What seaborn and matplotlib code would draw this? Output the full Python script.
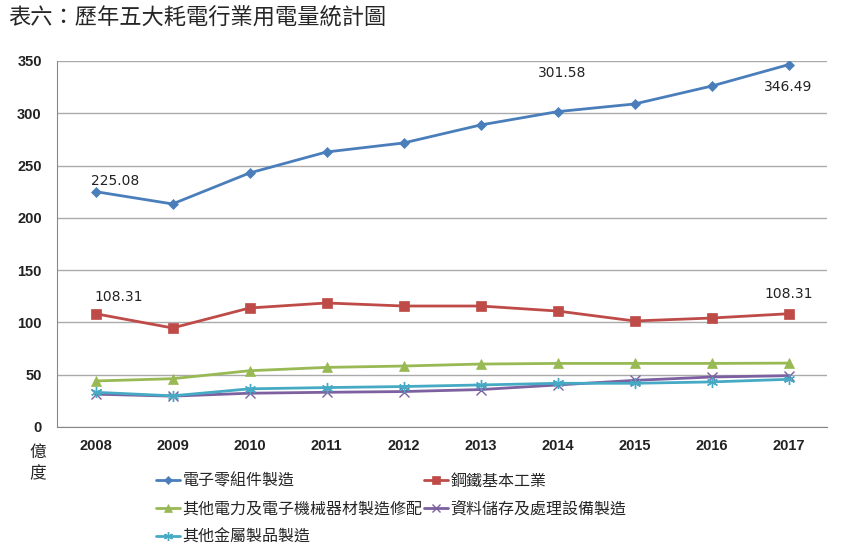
import matplotlib
matplotlib.use("Agg")
import matplotlib.pyplot as plt
import seaborn as sns
import pandas as pd

# ── data ──────────────────────────────────────────────────────────────────────
years = [2008, 2009, 2010, 2011, 2012, 2013, 2014, 2015, 2016, 2017]
electronics = [225.08, 213.3, 242.9, 263.0, 271.6, 288.8, 301.58, 308.9, 326.0, 346.49]
steel = [108.31, 94.7, 113.8, 118.6, 115.7, 115.7, 110.9, 101.4, 104.2, 108.31]
electric_machinery = [44.0, 46.2, 53.8, 57.0, 58.3, 60.2, 60.8, 60.8, 60.8, 61.1]
data_storage = [31.4, 29.5, 32.3, 33.2, 33.9, 35.8, 40.2, 44.6, 47.8, 49.1]
metal_products = [33.2, 29.8, 36.5, 37.7, 38.7, 40.2, 41.8, 41.8, 43.1, 45.6]

series_names = ["電子零組件製造", "鋼鐵基本工業", "其他電力及電子機械器材製造修配",
                "資料儲存及處理設備製造", "其他金屬製品製造"]
series_values = [electronics, steel, electric_machinery, data_storage, metal_products]
colors = ["#4A7EBB", "#BE4B48", "#98B954", "#7D60A0", "#46AAC5"]
markers = ["D", "s", "^", "x", (6, 2, 0)]
marker_sizes = [5, 6.5, 7, 7, 8]

# labelled points: (series index, year, offset in points)
labels = [(0, 2008, (14, 8)), (0, 2014, (3, 28)), (0, 2017, (0, -16)),
          (1, 2008, (17, 12)), (1, 2017, (0, 14))]

df = pd.concat([pd.DataFrame({"year": years, "value": v, "series": n})
                for n, v in zip(series_names, series_values)])

sns.set_style("white")
plt.rcParams["font.family"] = ["Noto Sans CJK TC", "DejaVu Sans"]

fig = plt.figure(figsize=(8.62, 5.52), dpi=100)
ax = fig.add_axes([57 / 862, 1 - 427 / 552, 770 / 862, 366 / 552])

for name, c, m, ms in zip(series_names, colors, markers, marker_sizes):
    sub = df[df["series"] == name]
    sns.lineplot(data=sub, x="year", y="value", ax=ax, color=c, marker=m,
                 markersize=ms, linewidth=2, markeredgecolor=c,
                 markeredgewidth=1.0 if m in ("x", (6, 2, 0)) else 0.5,
                 label=name, legend=False)

for i, yr, off in labels:
    val = series_values[i][years.index(yr)]
    ax.annotate(f"{val:.2f}", (yr, val), xytext=off, textcoords="offset points",
                ha="center", va="center", fontsize=10, family="DejaVu Sans",
                color="#222222")

ax.set_xlim(2007.5, 2017.5)
ax.set_ylim(0, 350)
ax.set_yticks(range(0, 351, 50))
ax.set_xticks(years)
ax.set_xticks([y + 0.5 for y in [2007] + years], minor=True)
ax.tick_params(axis="x", which="major", length=0, pad=9)
ax.tick_params(axis="x", which="minor", length=5, color="#888888", direction="out")
ax.tick_params(axis="y", length=5, color="#888888", direction="out", pad=6)
for t in ax.get_xticklabels() + ax.get_yticklabels():
    t.set_fontsize(10.5)
    t.set_fontweight("bold")
    t.set_family("Liberation Sans")
    t.set_color("#222222")

ax.grid(axis="y", color="#AAAAAA", linewidth=1)
ax.set_axisbelow(True)
for s in ["top", "right"]:
    ax.spines[s].set_visible(False)
for s in ["left", "bottom"]:
    ax.spines[s].set_color("#888888")
ax.set_xlabel("")
ax.set_ylabel("")

fig.text(38 / 862, 1 - 463 / 552, "億\n度", ha="center", va="center",
         fontsize=12, linespacing=1.3)
fig.text(8 / 862, 1 - 18 / 552, "表六：歷年五大耗電行業用電量統計圖",
         ha="left", va="center", fontsize=16, fontweight="light")

handles, names = ax.get_legend_handles_labels()
order = [0, 2, 4, 1, 3]
fig.legend([handles[i] for i in order], [names[i] for i in order],
           loc="upper left", bbox_to_anchor=(150 / 862, 1 - 466 / 552), ncol=2,
           frameon=False, prop={"size": 11.5, "weight": "medium"},
           handlelength=1.45, handletextpad=0.2, columnspacing=0.1,
           labelspacing=0.68, borderaxespad=0, markerscale=0.8)

fig.savefig("out.png", dpi=100)
